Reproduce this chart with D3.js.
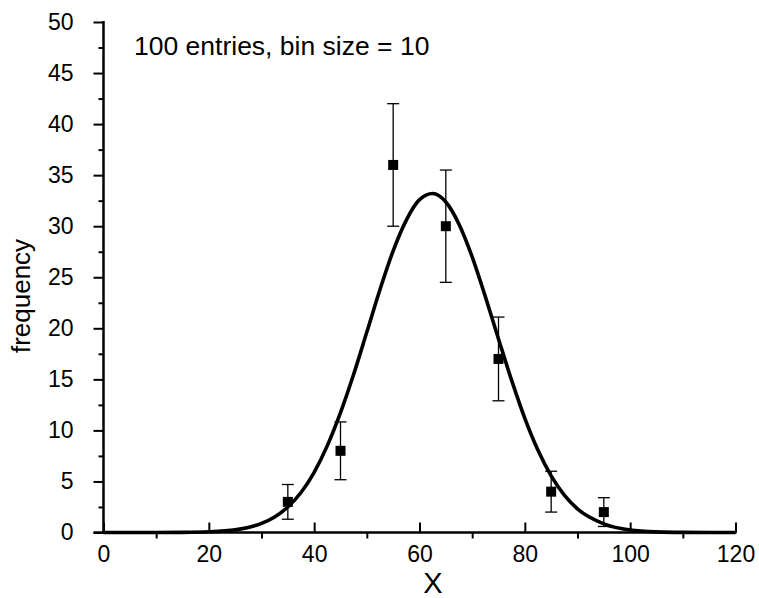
<!DOCTYPE html>
<html>
<head>
<meta charset="utf-8">
<script src="https://cdn.jsdelivr.net/npm/d3@7"></script>
<style>
  html, body { margin: 0; padding: 0; background: #fff; }
  svg text { font-family: Arial, "Liberation Sans", sans-serif; fill: #000; }
</style>
</head>
<body>
<svg id="chart" width="759" height="598"></svg>
<script>
// ---- data ----
const binCenters = [35, 45, 55, 65, 75, 85, 95];
const counts = [3, 8, 36, 30, 17, 4, 2];
const errLow = [1.3, 5.17, 30, 24.5, 12.9, 2.0, 0.59];
const errHigh = [4.7, 10.83, 42, 35.5, 21.1, 6.0, 3.41];

// fitted curve, points
const curveX = [0, 10, 15, 20, 25, 30, 32.5, 35, 37.5, 40, 42.5, 45, 47.5, 50, 52.5, 55, 57.5, 60, 62.5, 65, 67.5, 70, 72.5, 75, 77.5, 80, 82.5, 85, 87.5, 90, 95, 100, 105, 110, 120];
const curveY = [0, 0.002, 0.014, 0.067, 0.26, 0.89, 1.52, 2.5, 3.92, 5.9, 8.51, 11.74, 15.5, 19.63, 23.8, 27.59, 30.6, 32.6, 33.2, 32.37, 30.2, 27.0, 23.1, 18.96, 14.9, 11.18, 8.05, 5.55, 3.66, 2.31, 0.85, 0.24, 0.059, 0.013, 0];

const xMajorTicks = [0, 20, 40, 60, 80, 100, 120];
const xMinorTicks = [10, 30, 50, 70, 90, 110];
const yMajorTicks = [0, 5, 10, 15, 20, 25, 30, 35, 40, 45, 50];
const yMinorTicks = [2.5, 7.5, 12.5, 17.5, 22.5, 27.5, 32.5, 37.5, 42.5, 47.5];

const annotation = "100 entries, bin size = 10";
const xTitle = "X";
const yTitle = "frequency";

// ---- drawing ----
const svg = d3.select("#chart");
const x = d3.scaleLinear().domain([0, 120]).range([103.5, 735.5]);
const y = d3.scaleLinear().domain([0, 50]).range([532.5, 22]);
const FONT = "Arial, 'Liberation Sans', sans-serif";

// fitted curve
const line = d3.line().x((d, i) => x(curveX[i])).y(d => y(d)).curve(d3.curveMonotoneX);
svg.append("path")
  .attr("d", line(curveY))
  .attr("fill", "none")
  .attr("stroke", "#000")
  .attr("stroke-width", 3.6);

// error bars
const eb = svg.append("g").attr("stroke", "#000").attr("stroke-width", 1.3);
binCenters.forEach((c, i) => {
  eb.append("line").attr("x1", x(c)).attr("x2", x(c)).attr("y1", y(errLow[i])).attr("y2", y(errHigh[i]));
  eb.append("line").attr("x1", x(c) - 6).attr("x2", x(c) + 6).attr("y1", y(errLow[i])).attr("y2", y(errLow[i]));
  eb.append("line").attr("x1", x(c) - 6).attr("x2", x(c) + 6).attr("y1", y(errHigh[i])).attr("y2", y(errHigh[i]));
});

// markers
svg.append("g").selectAll("rect").data(counts).join("rect")
  .attr("x", (d, i) => x(binCenters[i]) - 5)
  .attr("y", d => y(d) - 5)
  .attr("width", 10).attr("height", 10)
  .attr("fill", "#000");

// Y axis
const gy = svg.append("g").attr("transform", `translate(${x(0)},0)`)
  .call(d3.axisLeft(y).tickValues(yMajorTicks).tickSize(10).tickPadding(20).tickFormat(d3.format("d")));
gy.select(".domain").remove();
gy.selectAll(".tick line").attr("stroke-width", 2);
gy.selectAll(".tick text").attr("font-size", 23).attr("font-family", FONT);
const gyMinor = svg.append("g").attr("transform", `translate(${x(0)},0)`)
  .call(d3.axisLeft(y).tickValues(yMinorTicks).tickSize(5).tickFormat(""));
gyMinor.select(".domain").remove();
gyMinor.selectAll(".tick line").attr("stroke-width", 2);
svg.append("line").attr("x1", x(0)).attr("x2", x(0)).attr("y1", y(50) - 1).attr("y2", y(0))
  .attr("stroke", "#000").attr("stroke-width", 2.5);

// X axis
const gx = svg.append("g").attr("transform", `translate(0,${y(0)})`)
  .call(d3.axisBottom(x).tickValues(xMajorTicks).tickSize(-10).tickPadding(13).tickFormat(d3.format("d")));
gx.select(".domain").remove();
gx.selectAll(".tick line").attr("stroke-width", 2);
gx.selectAll(".tick text").attr("font-size", 23).attr("font-family", FONT);
const gxMinor = svg.append("g").attr("transform", `translate(0,${y(0)})`)
  .call(d3.axisBottom(x).tickValues(xMinorTicks).tickSize(6).tickFormat(""));
gxMinor.select(".domain").remove();
gxMinor.selectAll(".tick line").attr("stroke-width", 2);
svg.append("line").attr("x1", x(0) - 10).attr("x2", x(120) + 1).attr("y1", y(0)).attr("y2", y(0))
  .attr("stroke", "#000").attr("stroke-width", 2.5);

// titles
svg.append("text").attr("x", 134).attr("y", 55).attr("font-size", 26.5).text(annotation);
svg.append("text").attr("x", 433).attr("y", 593).attr("text-anchor", "middle").attr("font-size", 29).text(xTitle);
svg.append("text").attr("transform", `translate(30,296) rotate(-90)`).attr("text-anchor", "middle").attr("font-size", 26).text(yTitle);
</script>
</body>
</html>
